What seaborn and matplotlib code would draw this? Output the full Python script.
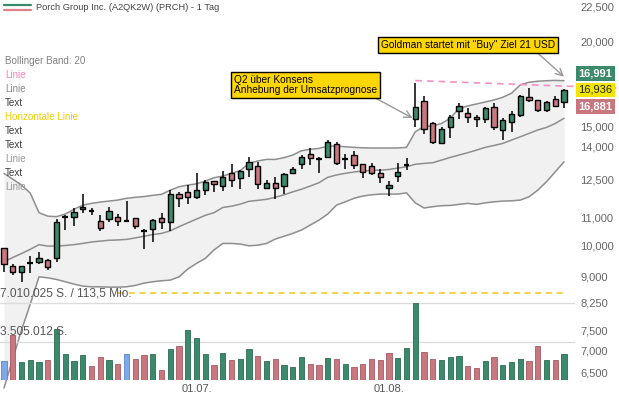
import numpy as np
import pandas as pd
import matplotlib
matplotlib.use("Agg")
import matplotlib.pyplot as plt
from matplotlib.lines import Line2D
from matplotlib.ticker import FixedLocator, NullLocator
import seaborn as sns

# daily candles (USD)
opens = [9.90, 9.32, 9.13, 9.42, 9.44, 9.53, 9.60, 11.00, 11.02, 11.31, 11.24, 10.86, 10.95,
         11.00, 10.87, 10.97, 10.49, 10.56, 10.97, 10.84, 11.90, 11.98, 11.80, 12.06, 12.45,
         12.25, 12.78, 12.59, 12.95, 13.11, 12.17, 12.35, 12.24, 12.81, 13.18, 13.63, 13.40,
         13.52, 14.11, 13.40, 13.60, 13.18, 13.10, 12.78, 12.14, 12.68, 13.13, 15.36, 16.34,
         15.15, 14.16, 14.97, 15.80, 15.68, 15.48, 15.36, 16.00, 14.82, 15.20, 15.60, 16.55,
         16.40, 15.86, 16.44, 16.31]
highs = [9.92, 9.40, 9.32, 9.65, 9.78, 9.55, 10.96, 11.09, 11.35, 11.91, 11.35, 11.09, 11.39,
         11.13, 11.64, 10.99, 10.57, 10.96, 11.15, 12.07, 12.00, 12.28, 12.78, 12.49, 12.47,
         12.88, 13.19, 12.92, 13.52, 13.27, 12.49, 12.61, 12.78, 13.04, 13.60, 13.91, 13.49,
         14.31, 14.21, 13.63, 13.78, 13.20, 13.25, 12.95, 12.45, 13.25, 13.48, 17.36, 16.63,
         15.20, 14.97, 15.58, 16.26, 15.95, 15.58, 16.04, 16.26, 15.44, 15.81, 16.68, 17.10,
         16.42, 16.34, 16.64, 17.00]
lows = [9.13, 9.04, 8.82, 9.10, 9.40, 9.20, 9.46, 10.54, 10.69, 11.18, 11.09, 10.50, 10.83,
        10.68, 10.83, 10.59, 9.87, 10.12, 10.56, 10.51, 11.38, 11.50, 11.71, 11.87, 12.00,
        12.03, 12.18, 12.11, 12.61, 12.10, 12.11, 11.71, 11.92, 12.74, 12.99, 13.15, 12.78,
        13.48, 13.15, 12.95, 12.99, 12.56, 12.70, 12.35, 11.83, 12.42, 12.92, 14.97, 14.63,
        14.11, 14.11, 14.39, 15.36, 15.15, 14.94, 15.18, 14.82, 14.31, 14.73, 15.46, 16.31,
        15.76, 15.76, 16.04, 15.95]
closes = [9.40, 9.14, 9.32, 9.42, 9.60, 9.30, 10.82, 11.00, 11.21, 11.38, 11.24, 10.62, 11.24,
          10.87, 10.87, 10.69, 10.49, 10.90, 10.82, 11.90, 11.77, 11.79, 12.07, 12.41, 12.31,
          12.63, 12.48, 12.88, 13.27, 12.31, 12.35, 12.17, 12.74, 12.96, 13.49, 13.47, 13.40,
          14.20, 13.25, 13.40, 13.15, 12.83, 12.78, 12.63, 12.28, 12.83, 13.13, 16.00, 14.86,
          14.20, 14.84, 15.46, 16.06, 15.46, 15.36, 15.95, 14.97, 15.32, 15.62, 16.62, 16.40,
          15.85, 16.29, 16.09, 16.99]
# volume in million shares
volumes = [1.76, 4.08, 1.64, 1.85, 1.64, 1.83, 4.63, 2.40, 1.76, 2.25, 1.28, 2.07, 1.83,
           1.46, 2.37, 1.92, 2.31, 2.35, 0.94, 2.80, 3.10, 4.59, 3.81, 2.42, 1.36, 2.44,
           1.83, 1.95, 2.80, 2.16, 1.73, 1.92, 1.37, 1.19, 2.10, 1.43, 1.37, 2.01, 1.89,
           1.43, 1.19, 1.43, 1.92, 1.80, 2.47, 1.98, 2.89, 7.010025, 2.53, 1.95, 1.80, 2.07,
           2.22, 1.25, 1.12, 1.73, 2.07, 1.34, 1.62, 1.95, 1.73, 3.13, 1.80, 1.80, 2.37]
# Bollinger band (20)
bb_upper = [12.78, 12.53, 12.28, 11.95, 11.18, 11.05, 11.03, 11.13, 11.31, 11.47, 11.54, 11.59,
            11.63, 11.67, 11.74, 11.78, 11.81, 11.86, 11.90, 12.07, 12.21, 12.28, 12.33, 12.45,
            12.59, 12.66, 12.78, 12.90, 13.22, 13.33, 13.40, 13.40, 13.48, 13.60, 13.80, 13.87,
            13.91, 14.02, 14.02, 13.99, 13.96, 13.94, 13.93, 13.93, 13.93, 13.93, 13.96, 14.72,
            14.99, 15.01, 15.14, 15.41, 15.94, 16.07, 16.18, 16.29, 16.40, 16.55, 16.78, 17.26,
            17.42, 17.48, 17.51, 17.53, 17.51]
bb_mid = [9.46, 9.60, 9.73, 9.87, 10.03, 9.98, 9.98, 10.00, 10.03, 10.07, 10.12, 10.15, 10.18,
          10.19, 10.21, 10.26, 10.32, 10.38, 10.42, 10.51, 10.66, 10.80, 10.94, 11.08, 11.18,
          11.38, 11.43, 11.51, 11.62, 11.66, 11.70, 11.78, 11.88, 12.00, 12.11, 12.24, 12.38,
          12.61, 12.71, 12.78, 12.84, 12.88, 12.91, 12.92, 12.95, 13.01, 13.07, 13.18, 13.22,
          13.25, 13.37, 13.49, 13.60, 13.71, 13.83, 13.96, 14.05, 14.15, 14.31, 14.47, 14.64,
          14.81, 14.94, 15.14, 15.41]
bb_lower = [6.16, 6.80, 7.50, 8.19, 8.99, 8.96, 8.91, 8.84, 8.77, 8.71, 8.69, 8.69, 8.68,
            8.68, 8.69, 8.73, 8.80, 8.84, 8.87, 8.89, 8.99, 9.23, 9.41, 9.57, 9.85, 10.07,
            10.07, 10.05, 9.99, 10.01, 10.07, 10.22, 10.32, 10.42, 10.54, 10.72, 10.90, 11.13,
            11.47, 11.60, 11.74, 11.83, 11.88, 11.91, 11.91, 11.91, 11.96, 11.56, 11.36, 11.41,
            11.45, 11.46, 11.50, 11.54, 11.50, 11.56, 11.60, 11.63, 11.64, 11.67, 11.80, 12.07,
            12.42, 12.85, 13.29]

price_ticks = [6.5, 7.0, 7.5, 8.25, 9.0, 10.0, 11.0, 12.5, 14.0, 15.0, 20.0, 22.5]
date_ticks = [22, 44]
date_labels = ["01.07.", "01.08."]
vol_labels = ["7.010.025 S. / 113,5 Mio.", "3.505.012 S."]
quote_labels = ["16,991", "16,936", "16,881"]
hline_level = 8.51
hline_range = [13, 64]
trend_pts = [(47, 17.52), (70, 17.08)]

legend_items = ["Bollinger Band: 20", "Linie", "Linie", "Text", "Horizontale Linie",
                "Text", "Text", "Linie", "Text", "Linie"]
legend_colors = ["#808080", "#ff7ebb", "#8a8a8a", "#3a3a3a", "#f5cc00",
                 "#3a3a3a", "#3a3a3a", "#9a9a9a", "#3a3a3a", "#9a9a9a"]

GREEN = "#3b8a6b"
PINK = "#c9777f"
BLUE = "#7fa8ea"

sns.set_theme(style="white")
plt.rcParams["font.family"] = ["Liberation Sans", "DejaVu Sans"]

W, H = 619, 399
fig = plt.figure(figsize=(W / 100, H / 100), dpi=100)


def fx(x):
    return x / W


def fy(y):
    return 1 - y / H


ax = fig.add_axes([0, fy(380), fx(575), 380 / H])
ax.set_yscale("log")

df = pd.DataFrame({"o": opens, "h": highs, "l": lows, "c": closes, "v": volumes,
                   "up": bb_upper, "mid": bb_mid, "low": bb_lower})
df["i"] = np.arange(len(df))

# bollinger band
ax.fill_between(df.i, df.low, df.up, color="#f1f1f1", lw=0, zorder=1)
for col in ["up", "mid"]:
    sns.lineplot(data=df, x="i", y=col, ax=ax, color="#8e8e8e", lw=1.1, zorder=2)
sns.lineplot(data=df, x="i", y="low", ax=ax, color="#8e8e8e", lw=1.1, zorder=2, clip_on=False)

# candles
rise = df.c > df.o
fall = df.c < df.o
flat = df.c == df.o
ax.vlines(df.i, df.l, df.h, color="black", lw=1.1, zorder=3)
ax.bar(df.i[rise], (df.c - df.o)[rise], bottom=df.o[rise], width=0.62,
       color=GREEN, edgecolor="black", lw=1, zorder=4)
ax.bar(df.i[fall], (df.o - df.c)[fall], bottom=df.c[fall], width=0.62,
       color=PINK, edgecolor="black", lw=1, zorder=4)
ax.hlines(df.c[flat], df.i[flat] - 0.33, df.i[flat] + 0.33, color="black", lw=1.6, zorder=4)

# lines
ax.plot(hline_range, [hline_level, hline_level], color="#f5c518", lw=1.1,
        dashes=(4, 3), zorder=3)
ax.plot([p[0] for p in trend_pts], [p[1] for p in trend_pts], color="#f78fc4", lw=1.2,
        dashes=(4, 3), zorder=6, clip_on=False)

# annotations
box = dict(boxstyle="square,pad=0.3", fc="#ffd700", ec="black", lw=1)
ax.annotate("Q2 über Konsens\nAnhebung der Umsatzprognose", xy=(46.7, 15.42),
            xytext=(26.3, 17.26), textcoords="data", ha="left", va="center",
            fontsize=7.3, color="black", bbox=box, zorder=7, linespacing=1.05,
            arrowprops=dict(arrowstyle="->,head_length=0.7,head_width=0.35", color="#999999",
                            lw=1, relpos=(0.95, 0), shrinkA=0, shrinkB=0))
ax.annotate('Goldman startet mit "Buy" Ziel 21 USD', xy=(64, 17.75),
            xytext=(43.1, 19.77), textcoords="data", ha="left", va="center",
            fontsize=7.3, color="black", bbox=box, zorder=7,
            arrowprops=dict(arrowstyle="->,head_length=0.7,head_width=0.35", color="#999999",
                            lw=1, relpos=(0.88, 0), shrinkA=0, shrinkB=0))

# volume
ax2 = ax.twinx()
vmax = max(volumes)
vol_dir = np.sign(df.c.diff().fillna(0).round(4))
vol_colors = [GREEN if d > 0 else PINK if d < 0 else BLUE for d in vol_dir]
edge_colors = ["#2c6b52" if d > 0 else "#a65a63" if d < 0 else "#5b86c9" for d in vol_dir]
ax2.bar(df.i, df.v, width=0.6, color=vol_colors, edgecolor=edge_colors, lw=0.6, zorder=3)
ax2.set_ylim(0, vmax * 380 / 76.7)
ax2.set_yticks([])
for lvl, lab in zip([vmax, vmax / 2], vol_labels):
    ax2.axhline(lvl, color="#dcdcdc", lw=1, zorder=1)
    ax2.annotate(lab, xy=(0, lvl), xycoords=("axes fraction", "data"), xytext=(0, 2.5),
                 textcoords="offset points", ha="left", va="bottom", fontsize=8.6,
                 color="#555555")
sns.despine(ax=ax2, left=True, bottom=True, right=True, top=True)

# price axis on the right (after twinx, which moves ticks to the left)
ax.set_xlim(-4 / 8.75, (575 - 4) / 8.75)
ax.set_ylim(6.33, 23.04)
ax.yaxis.tick_right()
ax.yaxis.set_major_locator(FixedLocator(price_ticks))
ax.yaxis.set_minor_locator(NullLocator())
ax.set_yticklabels([f"{v:,.3f}".replace(".", ",") for v in price_ticks])
ax.tick_params(axis="y", which="both", left=False, labelleft=False, right=False,
               labelright=True, length=0, pad=4, labelsize=8, colors="#666666")
ax.set_xticks(date_ticks)
ax.set_xticklabels(date_labels)
ax.tick_params(axis="x", length=0, pad=3, labelsize=8, colors="#555555")
ax.set_xlabel("")
ax.set_ylabel("")
sns.despine(ax=ax, left=True, bottom=True, right=True, top=True)

# header and left legend list
fig.add_artist(Line2D([fx(4), fx(31)], [fy(5), fy(5)], color=GREEN, lw=1.6))
fig.add_artist(Line2D([fx(4), fx(31)], [fy(10), fy(10)], color="#e0808c", lw=1.6))
fig.text(fx(36), fy(8), "Porch Group Inc. (A2QK2W) (PRCH) - 1 Tag", fontsize=6.7,
         color="#444444", va="center", ha="left")
for k, (item, col) in enumerate(zip(legend_items, legend_colors)):
    fig.text(fx(5), fy(61 + 14 * k), item, fontsize=7.1, color=col, va="center", ha="left")

# current quote labels
for lab, yy, bg, fg, wt in zip(quote_labels, [73.5, 90, 106.5], [GREEN, "#f2e600", PINK],
                               ["white", "#222222", "white"], ["bold", "normal", "bold"]):
    fig.text(fx(595.5), fy(yy), lab, fontsize=8, color=fg, fontweight=wt, ha="center",
             va="center", bbox=dict(boxstyle="square,pad=0.22", fc=bg, ec="none"))

fig.savefig("out.png", dpi=100)
